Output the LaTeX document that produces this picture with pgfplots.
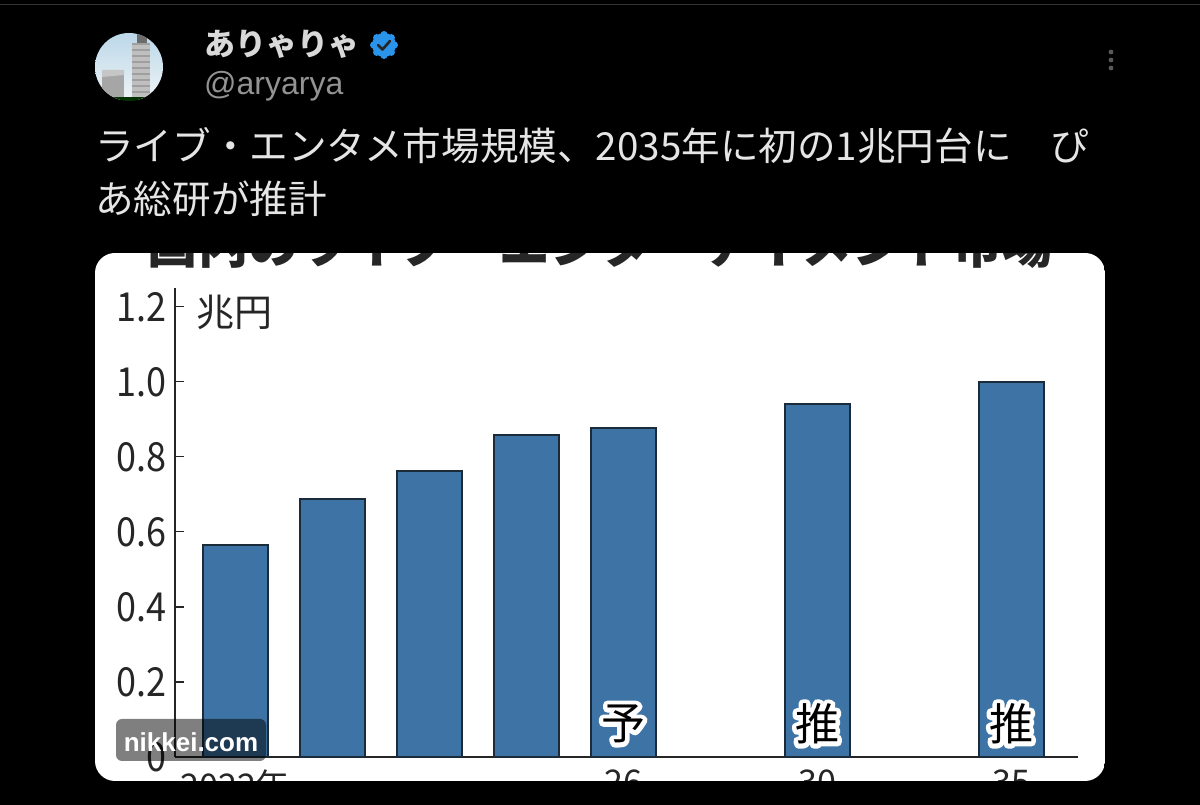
\documentclass[border=0pt]{standalone}
\usepackage{pgfplots}
\pgfplotsset{compat=1.18}
\usepackage{fontspec}
\setmainfont{Noto Sans CJK JP}
\newfontfamily\lat{Liberation Sans}
\definecolor{barblue}{HTML}{3E74A5}
\definecolor{barline}{HTML}{1B2B3A}
\definecolor{xblue}{HTML}{2A93EA}
\definecolor{sky}{HTML}{B9D6E8}
\definecolor{skylow}{HTML}{EEF4F6}
\newcommand\fs[1]{\fontsize{#1}{#1}\selectfont}
\newcommand\halo[1]{\fs{44}\rlap{\special{pdf:code q 1 Tr 9 w 1 1 1 RG 1 1 1 rg 1 J 1 j}#1\special{pdf:code Q}}#1}
\newcommand\sq[1]{\scalebox{0.9}[1]{#1}}
\begin{document}
\begin{tikzpicture}[x=1pt,y=1pt]
\useasboundingbox (0,0) rectangle (1200,805);
\fill[black] (0,0) rectangle (1200,805);
\fill[black!80!white] (0,799.5) rectangle (1200,800.5);
% avatar
\begin{scope}
\clip (129,738) circle (34);
\shade[top color=sky,bottom color=skylow] (90,705) rectangle (170,775);
\fill[gray!50] (132,706) rectangle (150,762);
\foreach \y in {712,718,...,760}{\fill[gray!75] (132,\y) rectangle (150,\y+2);}
\fill[gray!85!black] (137,762) rectangle (147,772);
\fill[gray!70] (102,708) rectangle (124,735);
\fill[gray!45] (102,735) -- (124,735) -- (124,730) -- (102,728) -- cycle;
\fill[green!20!black] (90,700) rectangle (170,708);
\end{scope}
% header
\node[anchor=west,text=white!85!black,font=\fs{31}\bfseries,inner sep=0] at (204,761) {ありゃりゃ};
\fill[xblue] (384,760) circle (12);
\foreach \a in {0,45,...,315}{\fill[xblue] (384,760)++(\a:10.5) circle (3.5);}
\draw[black!85,line width=2.6,line cap=round,line join=round] (378,760) -- (382.5,755.5) -- (390,764);
\node[anchor=west,text=gray!85,font=\lat\fs{32},inner sep=0] at (204,718.5) {@aryarya};
\foreach \y in {753,745,737}{\fill[gray!70!black] (1111,\y) circle (2.4);}
\node[anchor=west,text=white!90!black,font=\fs{38.6},inner sep=0] at (95,659) {ライブ・エンタメ市場規模、2035年に初の1兆円台に　ぴ};
\node[anchor=west,text=white!90!black,font=\fs{38.6},inner sep=0] at (95,606) {あ総研が推計};
% card
\begin{scope}
\clip[rounded corners=20] (95,24) rectangle (1105,552);
\fill[white] (95,24) rectangle (1105,552);
\node[anchor=center,text=black!85,font=\fs{50.3}\bfseries,inner sep=0] at (600.5,561) {国内のライブ・エンターテイメント市場};
\node[anchor=west,text=black!85,font=\fs{38},inner sep=0] at (196,493) {兆円};
\begin{axis}[
  at={(175pt,48pt)},anchor=south west,
  scale only axis,width=903pt,height=469pt,
  xmin=-0.62,xmax=8.69,ymin=0,ymax=1.25,
  axis lines=left,axis line style={-,black!85,line width=1.3pt},
  ytick={0,0.2,0.4,0.6,0.8,1.0,1.2},
  yticklabels={\sq{0},\sq{0.2},\sq{0.4},\sq{0.6},\sq{0.8},\sq{1.0},\sq{1.2}},
  xtick={0,4,6,8},
  xticklabels={2022年,26,30,35},
  tick align=inside,
  major tick length=9pt,
  x tick style={draw=none},
  y tick style={black!85,line width=1.2pt},
  yticklabel style={font=\fs{40},text=black!85,inner sep=0,xshift=-8pt},
  xticklabel style={font=\fs{34},text=black!85,inner sep=0,yshift=-13pt,anchor=north},
  clip=false,
]
\addplot[ybar,bar width=65pt,bar shift=0pt,fill=barblue,draw=barline,line width=2pt]
  coordinates {(0,0.565)(1,0.688)(2,0.763)(3,0.859)(4,0.877)(6,0.941)(8,1.0)};
\node[inner sep=0,text=black] at (axis cs:4,0.088) {\halo{予}};
\node[inner sep=0,text=black] at (axis cs:6,0.088) {\halo{推}};
\node[inner sep=0,text=black] at (axis cs:8,0.088) {\halo{推}};
\end{axis}
\end{scope}
% badge
\fill[black,opacity=0.5,rounded corners=6] (116,44) rectangle (266,86);
\node[text=white,font=\lat\fs{26}\bfseries,inner sep=0] at (191,63) {nikkei.com};
\end{tikzpicture}
\end{document}
